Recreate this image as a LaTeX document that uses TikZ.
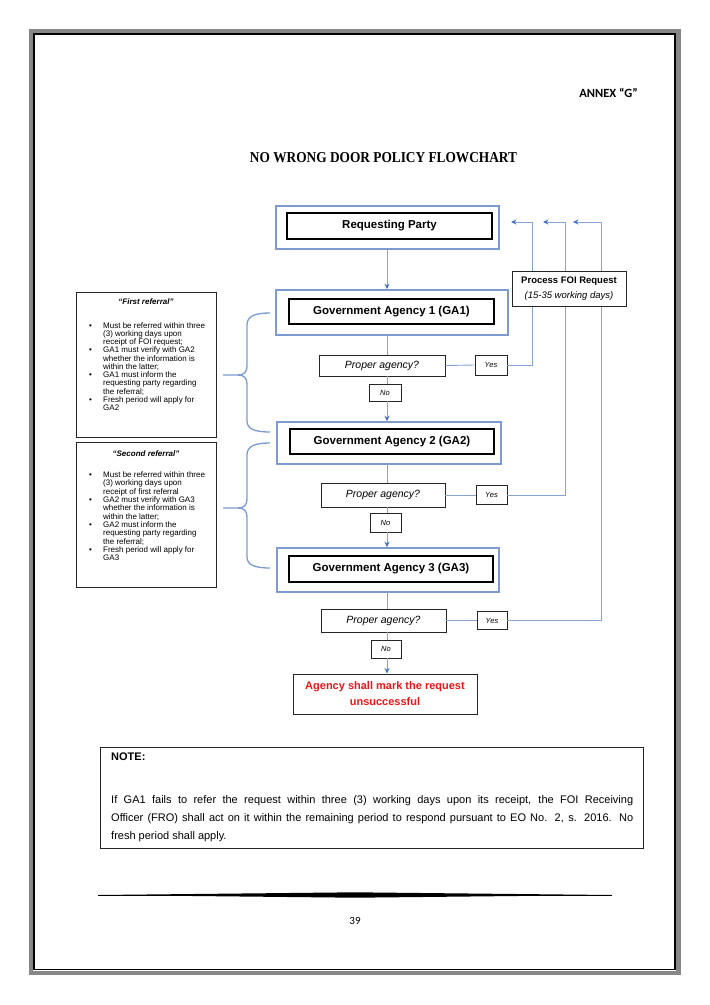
\documentclass[tikz,border=0pt]{standalone}
\usepackage{fontspec}
\setmainfont{Liberation Sans}
\newfontfamily\calibri{Carlito}
\newfontfamily\serifb{Liberation Serif}
\usetikzlibrary{arrows.meta}
\definecolor{bl}{RGB}{125,155,208}
\definecolor{blline}{RGB}{135,163,212}
\definecolor{blarrow}{RGB}{68,114,196}
\definecolor{redtxt}{RGB}{236,22,22}
\definecolor{framegray}{RGB}{135,135,135}
\begin{document}
\begin{tikzpicture}[x=1pt,y=-1pt,
  outer/.style={draw=bl, line width=1.6pt, inner sep=0pt},
  inner/.style={draw=black, line width=1.2pt, fill=white, inner sep=0pt, font=\bfseries\fontsize{11.5}{13}\selectfont},
  small/.style={draw=black!85, line width=0.9pt, fill=white, inner sep=0pt},
  prop/.style={small, font=\itshape\fontsize{10.5}{12}\selectfont},
  yn/.style={small, font=\itshape\fontsize{7.5}{9}\selectfont},
  lbox/.style={draw=black!85, line width=1pt, inner sep=0pt},
  conn/.style={draw=blline, line width=0.9pt},
  arr/.style={conn, -{Stealth[length=5.5pt,width=5pt,color=blarrow]}},
  brace/.style={draw=bl, line width=1.3pt},
  btxt/.style={anchor=base west, inner sep=0pt},
]
\useasboundingbox (0,0) rectangle (710,1005);
% page frame
\draw[framegray, line width=4.5pt] (31,31) rectangle (678.5,973);
\draw[black, line width=1.8pt] (34,34) rectangle (675,969.5);

% headings
\node[anchor=east, inner sep=0pt] (annex) at (638,93) {\calibri\bfseries\fontsize{12.5}{14}\selectfont ANNEX “G”};
\node[inner sep=0pt] (title) at (383.5,158) {\resizebox{267pt}{10pt}{\serifb\bfseries NO WRONG DOOR POLICY FLOWCHART}};

% main column
\node[outer, minimum width=223pt, minimum height=43pt] (rpo) at (387.5,227.5) {};
\node[inner, minimum width=205pt, minimum height=26pt] (rp) at (389.5,226) {Requesting Party};

\node[outer, minimum width=232pt, minimum height=45pt] (ga1o) at (392,312.5) {};
\node[inner, minimum width=205pt, minimum height=25pt] (ga1) at (391.5,311.5) {Government Agency 1 (GA1)};

\node[outer, minimum width=224pt, minimum height=42pt] (ga2o) at (389,443) {};
\node[inner, minimum width=204pt, minimum height=25pt] (ga2) at (392,441.5) {Government Agency 2 (GA2)};

\node[outer, minimum width=222pt, minimum height=44pt] (ga3o) at (388,570) {};
\node[inner, minimum width=204pt, minimum height=26pt] (ga3) at (391,569) {Government Agency 3 (GA3)};

\node[prop, minimum width=126pt, minimum height=21pt] (p1) at (382,365.5) {Proper agency?};
\node[yn, minimum width=32pt, minimum height=20pt] (y1) at (491,365) {Yes};
\node[yn, minimum width=32pt, minimum height=17pt] (n1) at (385,392.5) {No};

\node[prop, minimum width=124pt, minimum height=24pt] (p2) at (383,495) {Proper agency?};
\node[yn, minimum width=31pt, minimum height=19pt] (y2) at (491.5,495) {Yes};
\node[yn, minimum width=31pt, minimum height=19pt] (n2) at (385.5,522.5) {No};

\node[prop, minimum width=125pt, minimum height=23pt] (p3) at (383.5,620.5) {Proper agency?};
\node[yn, minimum width=30pt, minimum height=18pt] (y3) at (492,620.5) {Yes};
\node[yn, minimum width=30pt, minimum height=18pt] (n3) at (386,649) {No};

\node[small, line width=1pt, minimum width=184pt, minimum height=40pt, align=center,
      font=\bfseries\fontsize{11}{16}\selectfont, text=redtxt] (fin) at (385,694)
      {Agency shall mark the request\\unsuccessful};

% connectors
\coordinate (cx) at (387,0);
\draw[arr] (cx |- rpo.south) -- (cx |- ga1o.north);
\draw[conn] (cx |- ga1o.south) -- (cx |- p1.north);
\draw[conn] (cx |- p1.south) -- (cx |- n1.north);
\draw[arr] (cx |- n1.south) -- (cx |- ga2o.north);
\draw[conn] (cx |- ga2o.south) -- (cx |- p2.north);
\draw[conn] (cx |- p2.south) -- (cx |- n2.north);
\draw[arr] (cx |- n2.south) -- (cx |- ga3o.north);
\draw[conn] (cx |- ga3o.south) -- (cx |- p3.north);
\draw[conn] (cx |- p3.south) -- (cx |- n3.north);
\draw[arr] (cx |- n3.south) -- (cx |- fin.north);

\draw[conn] (p1.east) -- (y1.west);
\draw[conn] (p2.east) -- (y2.west);
\draw[conn] (p3.east) -- (y3.west);

\coordinate (k1) at (532,222); \coordinate (t1) at (511,222);
\coordinate (k2) at (565,222); \coordinate (t2) at (543,222);
\coordinate (k3) at (601,222); \coordinate (t3) at (573,222);
\draw[arr] (y1.east) -| (k1) -- (t1);
\draw[arr] (y2.east) -| (k2) -- (t2);
\draw[arr] (y3.east) -| (k3) -- (t3);

\node[small, line width=1pt, minimum width=114pt, minimum height=35pt, align=center,
      font=\fontsize{9.5}{15}\selectfont] (foi) at (569,288.5)
      {\textbf{Process FOI Request}\\\textit{(15-35 working days)}};

% left referral boxes
\node[lbox, minimum width=140pt, minimum height=145pt] (r1) at (146,364.5) {};
\node[inner sep=0pt, font=\bfseries\itshape\fontsize{8}{9}\selectfont] (h1) at (146,302) {“First referral”};
\node[btxt, font=\fontsize{8}{8.1}\selectfont] (b1) at (89,328.3) {%
\begin{tabular}[t]{@{}p{14pt}@{}l@{}}
\textbullet & Must be referred within three\\
 & (3) working days upon\\
 & receipt of FOI request;\\
\textbullet & GA1 must verify with GA2\\
 & whether the information is\\
 & within the latter;\\
\textbullet & GA1 must inform the\\
 & requesting party regarding\\
 & the referral;\\
\textbullet & Fresh period will apply for\\
 & GA2
\end{tabular}};

\node[lbox, minimum width=140pt, minimum height=145pt] (r2) at (146,514.5) {};
\node[inner sep=0pt, font=\bfseries\itshape\fontsize{8}{9}\selectfont] (h2) at (146,454) {“Second referral”};
\node[btxt, font=\fontsize{8}{8.33}\selectfont] (b2) at (89,477.6) {%
\begin{tabular}[t]{@{}p{14pt}@{}l@{}}
\textbullet & Must be referred within three\\
 & (3) working days upon\\
 & receipt of first referral\\
\textbullet & GA2 must verify with GA3\\
 & whether the information is\\
 & within the latter;\\
\textbullet & GA2 must inform the\\
 & requesting party regarding\\
 & the referral;\\
\textbullet & Fresh period will apply for\\
 & GA3
\end{tabular}};

% braces
\draw[brace] (270,313) .. controls (255,313) and (247,316) .. (247,325) -- (247,366)
   .. controls (247,372) and (244,375) .. (238,375) -- (223,375);
\draw[brace] (238,375) .. controls (244,375) and (247,378) .. (247,384) -- (247,421)
   .. controls (247,429) and (255,432) .. (270,432);
\draw[brace] (270,443) .. controls (255,443) and (247,446) .. (247,455) -- (247,499)
   .. controls (247,505) and (244,508) .. (238,508) -- (223,508);
\draw[brace] (238,508) .. controls (244,508) and (247,511) .. (247,517) -- (247,557)
   .. controls (247,565) and (255,568) .. (270,568);

% note
\node[lbox, line width=1pt, minimum width=543pt, minimum height=101pt] (note) at (371.5,797.5) {};
\node[btxt, font=\bfseries\fontsize{11}{13}\selectfont] (nh) at (111,760.5) {NOTE:};
\node[btxt, font=\fontsize{11}{18}\selectfont] (nt) at (111,803) {%
\begin{tabular}[t]{@{}l@{}}
\makebox[522pt][s]{If GA1 fails to refer the request within three (3) working days upon its receipt, the FOI Receiving}\\
\makebox[522pt][s]{Officer (FRO) shall act on it within the remaining period to respond pursuant to EO No. 2, s. 2016. No}\\
fresh period shall apply.
\end{tabular}};

% footer rule and page number
\fill[black] (98,895) -- (355,892.3) -- (612,895) -- (355,897.7) -- cycle;
\draw[black, line width=0.5pt] (98,895) -- (612,895);
\node[inner sep=0pt, font=\calibri\fontsize{11}{13}\selectfont] (pg) at (355,921) {39};
\end{tikzpicture}
\end{document}
